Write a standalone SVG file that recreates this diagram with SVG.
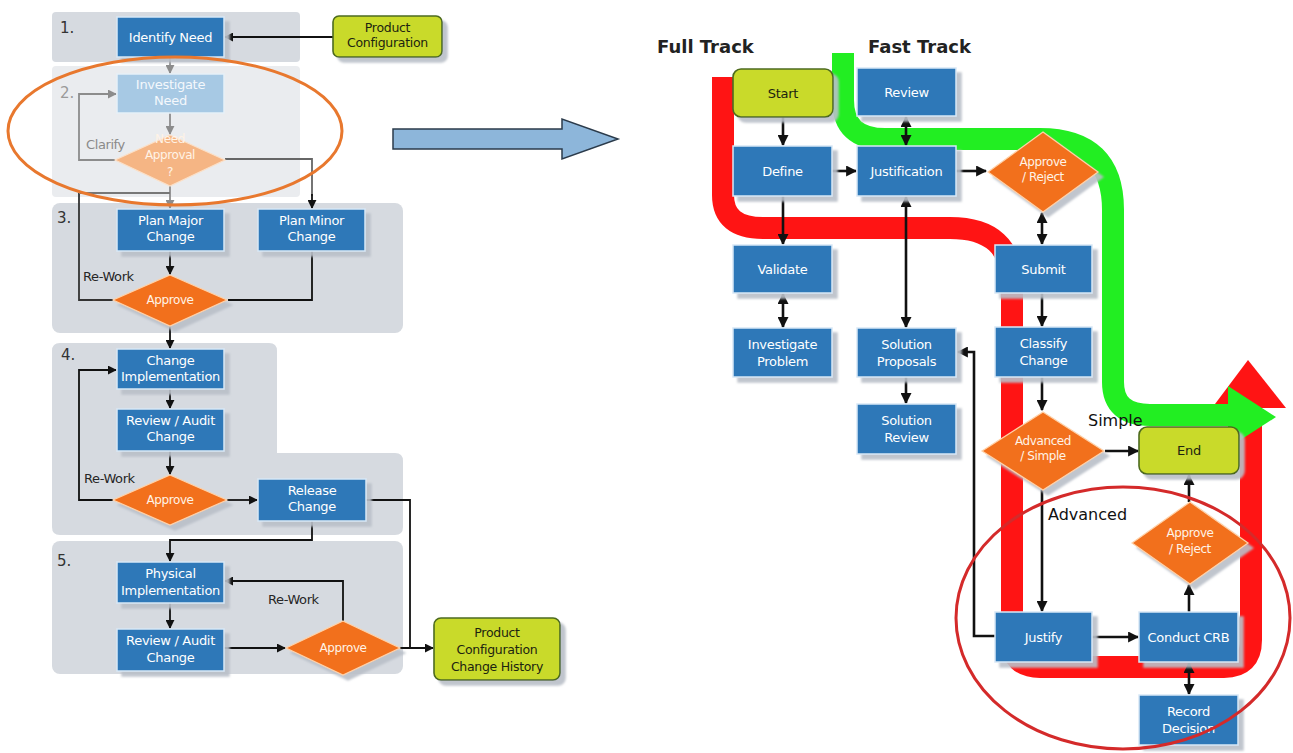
<svg xmlns="http://www.w3.org/2000/svg" width="1293" height="753" viewBox="0 0 1293 753">
<defs>
<style>
.panel{fill:#d6dae0}
.panel-faded{fill:#eaecef}
.box{fill:#2e78b8;stroke:#d8e8f6;stroke-width:1.5;filter:url(#sh)}
.box-faded{fill:#a7c9e4;stroke:#e6f0f8;stroke-width:1.5}
.dia{fill:#f2701f;stroke:#ffd2a8;stroke-width:1.2;filter:url(#sh)}
.dia-faded{fill:#f5b584;stroke:#fbe0c8;stroke-width:1.2}
.term{fill:#c9da2b;stroke:#4d6b1f;stroke-width:1.6;filter:url(#sh)}
.bt{font-family:"DejaVu Sans",sans-serif;font-size:13px;fill:#fff;text-anchor:middle;letter-spacing:-0.3px}
.dt{font-family:"DejaVu Sans",sans-serif;font-size:12px;fill:#fff3e6;text-anchor:middle;letter-spacing:-0.4px}
.tt{font-family:"DejaVu Sans",sans-serif;font-size:12.5px;fill:#1c2410;text-anchor:middle;letter-spacing:-0.3px}
.ft{fill:#f4f8fc}
.lbl{font-family:"DejaVu Sans",sans-serif;font-size:13px;fill:#262626;letter-spacing:-0.4px}
.num{font-family:"DejaVu Sans",sans-serif;font-size:15px;fill:#333}
.head{font-family:"DejaVu Sans",sans-serif;font-size:18px;font-weight:bold;fill:#222}
.tag{font-family:"DejaVu Sans",sans-serif;font-size:16px;fill:#111}
.ln{fill:none;stroke:#111;stroke-width:1.8}
.lg{fill:none;stroke:#8c8c8c;stroke-width:1.8}
.rl{fill:none;stroke:#111;stroke-width:2.6}
.track{fill:none;stroke-width:22}
</style>
<filter id="sh" x="-10%" y="-10%" width="130%" height="130%">
<feDropShadow dx="5" dy="5" stdDeviation="0.8" flood-color="#b9bfc8" flood-opacity="0.9"/>
</filter>
<marker id="ah" viewBox="0 0 10 10" refX="9" refY="5" markerWidth="9" markerHeight="9" markerUnits="userSpaceOnUse" orient="auto-start-reverse">
<path d="M0,0 L10,5 L0,10 z" fill="#111"/>
</marker>
<marker id="ahg" viewBox="0 0 10 10" refX="9" refY="5" markerWidth="9" markerHeight="9" markerUnits="userSpaceOnUse" orient="auto-start-reverse">
<path d="M0,0 L10,5 L0,10 z" fill="#8c8c8c"/>
</marker>
<marker id="ahb" viewBox="0 0 10 10" refX="9" refY="5" markerWidth="11" markerHeight="11" markerUnits="userSpaceOnUse" orient="auto-start-reverse">
<path d="M0,0 L10,5 L0,10 z" fill="#111"/>
</marker>
</defs>

<rect width="1293" height="753" fill="#fff"/>

<!-- stage panels of the process -->
<g id="stages">
<rect class="panel" x="52" y="12" width="248" height="50" rx="4"/>
<rect class="panel-faded" x="52" y="66" width="248" height="131" rx="4"/>
<rect class="panel" x="52" y="203" width="351" height="130" rx="8"/>
<path class="panel" d="M60,343 H269 Q277,343 277,351 V453 H395 Q403,453 403,461 V527 Q403,535 395,535 H60 Q52,535 52,527 V351 Q52,343 60,343 Z"/>
<rect class="panel" x="52" y="541" width="351" height="133" rx="8"/>
<text class="num" x="60" y="33">1.</text>
<text class="num" x="60" y="98" fill="#9a9a9a" style="fill:#9a9a9a">2.</text>
<text class="num" x="57" y="223">3.</text>
<text class="num" x="61" y="360">4.</text>
<text class="num" x="57" y="566">5.</text>
</g>

<!-- full track / fast track bands -->
<g id="tracks">
<path class="track" stroke="#ff1414" d="M723,77 V195 Q723,228 763,228 H950 Q1012,228 1012,285 V640 Q1012,667 1040,667 H1224 Q1251,667 1251,640 V404"/>
<polygon points="1212,408 1286,408 1248,360" fill="#ff1414"/>
<path class="track" stroke="#22ee22" d="M843,53 V100 Q843,139 885,139 H1040 Q1113,139 1113,210 V382 Q1113,415 1150,415 H1232"/>
<polygon points="1228,386 1276,417 1228,448" fill="#22ee22"/>
</g>

<!-- transition arrow between the two views -->
<g id="transition">
<polygon points="393,129 562,129 562,119 618,139 562,159 562,149 393,149" fill="#8db6da" stroke="#2b3b4b" stroke-width="1.5"/>
</g>

<g id="connectors">
<!-- left process -->
<path class="ln" d="M333,37 H225" marker-end="url(#ah)"/>
<path class="lg" d="M170,57 V73" marker-end="url(#ahg)"/>
<path class="lg" d="M170,113 V134" marker-end="url(#ahg)"/>
<path class="lg" d="M115,160 H79 V94 H116" marker-end="url(#ahg)"/>
<path class="lg" d="M170,185 V208" marker-end="url(#ahg)"/>
<path class="lg" d="M225,159 H312 V196" style="stroke:#666"/>
<path class="ln" d="M312,194 V208" marker-end="url(#ah)"/>
<path class="ln" d="M113,300 H79 V193" style="stroke:#333"/>
<path class="lg" d="M79,193 H170" style="stroke:#777"/>
<path class="ln" d="M170,251 V274" marker-end="url(#ah)"/>
<path class="ln" d="M312,251 V300 H228"/>
<path class="ln" d="M170,326 V348" marker-end="url(#ah)"/>
<path class="ln" d="M170,389 V408" marker-end="url(#ah)"/>
<path class="ln" d="M170,451 V474" marker-end="url(#ah)"/>
<path class="ln" d="M113,500 H79 V370 H116" marker-end="url(#ah)"/>
<path class="ln" d="M227,500 H257" marker-end="url(#ah)"/>
<path class="ln" d="M312,521 V540 H170 V561" marker-end="url(#ah)"/>
<path class="ln" d="M366,500 H410 V648"/>
<path class="ln" d="M400,648 H433" marker-end="url(#ah)"/>
<path class="ln" d="M170,603 V628" marker-end="url(#ah)"/>
<path class="ln" d="M224,648 H285" marker-end="url(#ah)"/>
<path class="ln" d="M343,621 V581 H225" marker-end="url(#ah)"/>
<!-- right process -->
<path class="rl" d="M783,117 V145" marker-end="url(#ahb)"/>
<path class="rl" d="M906,117 V145" marker-start="url(#ahb)" marker-end="url(#ahb)"/>
<path class="rl" d="M832,171 H856" marker-end="url(#ahb)"/>
<path class="rl" d="M956,171 H986" marker-end="url(#ahb)"/>
<path class="rl" d="M783,196 V244" marker-end="url(#ahb)"/>
<path class="rl" d="M906,197 V327" marker-start="url(#ahb)" marker-end="url(#ahb)"/>
<path class="rl" d="M1042,213 V244" marker-start="url(#ahb)" marker-end="url(#ahb)"/>
<path class="rl" d="M783,294 V327" marker-start="url(#ahb)" marker-end="url(#ahb)"/>
<path class="rl" d="M1042,293 V326" marker-end="url(#ahb)"/>
<path class="rl" d="M906,377 V403" marker-end="url(#ahb)"/>
<path class="rl" d="M1042,377 V410" marker-end="url(#ahb)"/>
<path class="rl" d="M1105,451 H1138" marker-end="url(#ahb)"/>
<path class="rl" d="M1042,490 V611" marker-end="url(#ahb)"/>
<path class="rl" d="M995,636 H974 V352 H958" marker-end="url(#ahb)"/>
<path class="rl" d="M1092,637 H1138" marker-end="url(#ahb)"/>
<path class="rl" d="M1189,612 V585" marker-end="url(#ahb)"/>
<path class="rl" d="M1189,502 V475" marker-end="url(#ahb)"/>
<path class="rl" d="M1189,663 V694" marker-start="url(#ahb)" marker-end="url(#ahb)"/>
</g>

<!-- left process nodes -->
<g id="identify-need"><rect class="box" x="117" y="17" width="107" height="40"/><text class="bt" x="170.5" y="42">Identify Need</text></g>
<g id="product-configuration"><rect class="term" x="333" y="16" width="109" height="41" rx="6"/><text class="tt" x="387.5" y="32">Product</text><text class="tt" x="387.5" y="47">Configuration</text></g>
<g id="investigate-need"><rect class="box-faded" x="117" y="74" width="107" height="39"/><text class="bt ft" x="170.5" y="89">Investigate</text><text class="bt ft" x="170.5" y="105">Need</text></g>
<g id="need-approval"><polygon class="dia-faded" points="170,135 225,160 170,186 115,160"/><text class="dt" x="170" y="143">Need</text><text class="dt" x="170" y="159">Approval</text><text class="dt" x="170" y="176">?</text></g>
<text class="lbl" x="86" y="149" style="fill:#8a8a8a">Clarify</text>
<g id="plan-major-change"><rect class="box" x="117" y="209" width="107" height="42"/><text class="bt" x="170.5" y="225">Plan Major</text><text class="bt" x="170.5" y="241">Change</text></g>
<g id="plan-minor-change"><rect class="box" x="258" y="209" width="107" height="42"/><text class="bt" x="311.5" y="225">Plan Minor</text><text class="bt" x="311.5" y="241">Change</text></g>
<g id="approve-3"><polygon class="dia" points="170,275 227,300 170,326 113,300"/><text class="dt" x="170" y="304">Approve</text></g>
<text class="lbl" x="83" y="281">Re-Work</text>
<g id="change-implementation"><rect class="box" x="117" y="349" width="107" height="40"/><text class="bt" x="170.5" y="365">Change</text><text class="bt" x="170.5" y="381">Implementation</text></g>
<g id="review-audit-change-4"><rect class="box" x="117" y="409" width="107" height="42"/><text class="bt" x="170.5" y="425">Review / Audit</text><text class="bt" x="170.5" y="441">Change</text></g>
<g id="approve-4"><polygon class="dia" points="170,475 227,500 170,525 113,500"/><text class="dt" x="170" y="504">Approve</text></g>
<text class="lbl" x="84" y="483">Re-Work</text>
<g id="release-change"><rect class="box" x="258" y="479" width="108" height="42"/><text class="bt" x="312" y="495">Release</text><text class="bt" x="312" y="511">Change</text></g>
<g id="physical-implementation"><rect class="box" x="117" y="562" width="107" height="41"/><text class="bt" x="170.5" y="578">Physical</text><text class="bt" x="170.5" y="595">Implementation</text></g>
<g id="review-audit-change-5"><rect class="box" x="117" y="629" width="107" height="42"/><text class="bt" x="170.5" y="645">Review / Audit</text><text class="bt" x="170.5" y="662">Change</text></g>
<g id="approve-5"><polygon class="dia" points="343,621 400,648 343,675 286,648"/><text class="dt" x="343" y="652">Approve</text></g>
<text class="lbl" x="268" y="604">Re-Work</text>
<g id="change-history"><rect class="term" x="434" y="618" width="126" height="62" rx="7"/><text class="tt" x="497" y="637">Product</text><text class="tt" x="497" y="654">Configuration</text><text class="tt" x="497" y="671">Change History</text></g>

<!-- right process headings and labels -->
<text class="head" x="657" y="53">Full Track</text>
<text class="head" x="868" y="53">Fast Track</text>
<text class="tag" x="1088" y="426">Simple</text>
<text class="tag" x="1048" y="520">Advanced</text>

<!-- right process nodes -->
<g id="start"><rect class="term" x="733" y="69" width="100" height="48" rx="8"/><text class="tt" x="783" y="98" style="font-size:13px">Start</text></g>
<g id="review"><rect class="box" x="857" y="68" width="99" height="48"/><text class="bt" x="906.5" y="97">Review</text></g>
<g id="define"><rect class="box" x="733" y="146" width="99" height="50"/><text class="bt" x="782.5" y="176">Define</text></g>
<g id="justification"><rect class="box" x="857" y="146" width="99" height="50"/><text class="bt" x="906.5" y="176">Justification</text></g>
<g id="approve-reject-1"><polygon class="dia" points="1043,132 1098,172 1043,212 988,172"/><text class="dt" x="1043" y="166">Approve</text><text class="dt" x="1043" y="181">/ Reject</text></g>
<g id="validate"><rect class="box" x="733" y="245" width="99" height="48"/><text class="bt" x="782.5" y="274">Validate</text></g>
<g id="submit"><rect class="box" x="995" y="245" width="97" height="48"/><text class="bt" x="1043.5" y="274">Submit</text></g>
<g id="investigate-problem"><rect class="box" x="733" y="328" width="99" height="49"/><text class="bt" x="782.5" y="349">Investigate</text><text class="bt" x="782.5" y="366">Problem</text></g>
<g id="solution-proposals"><rect class="box" x="857" y="328" width="99" height="49"/><text class="bt" x="906.5" y="349">Solution</text><text class="bt" x="906.5" y="366">Proposals</text></g>
<g id="classify-change"><rect class="box" x="995" y="327" width="97" height="50"/><text class="bt" x="1043.5" y="348">Classify</text><text class="bt" x="1043.5" y="365">Change</text></g>
<g id="solution-review"><rect class="box" x="857" y="404" width="99" height="50"/><text class="bt" x="906.5" y="425">Solution</text><text class="bt" x="906.5" y="442">Review</text></g>
<g id="advanced-simple"><polygon class="dia" points="1043,412 1104,451 1043,490 982,451"/><text class="dt" x="1043" y="445">Advanced</text><text class="dt" x="1043" y="460">/ Simple</text></g>
<g id="end"><rect class="term" x="1139" y="427" width="100" height="47" rx="8"/><text class="tt" x="1189" y="455" style="font-size:13px">End</text></g>
<g id="approve-reject-2"><polygon class="dia" points="1190,502 1248,543 1190,584 1132,543"/><text class="dt" x="1190" y="537">Approve</text><text class="dt" x="1190" y="553">/ Reject</text></g>
<g id="justify"><rect class="box" x="995" y="612" width="97" height="50"/><text class="bt" x="1043.5" y="642">Justify</text></g>
<g id="conduct-crb"><rect class="box" x="1139" y="612" width="99" height="50"/><text class="bt" x="1188.5" y="642">Conduct CRB</text></g>
<g id="record-decision"><rect class="box" x="1139" y="695" width="99" height="50"/><text class="bt" x="1188.5" y="716">Record</text><text class="bt" x="1188.5" y="733">Decision</text></g>

<!-- emphasis rings -->
<g id="emphasis">
<ellipse cx="175" cy="131" rx="167" ry="74" fill="none" stroke="#e8782e" stroke-width="3"/>
<ellipse cx="1123" cy="618" rx="167" ry="131" fill="none" stroke="#d42a2a" stroke-width="3"/>
</g>
</svg>
